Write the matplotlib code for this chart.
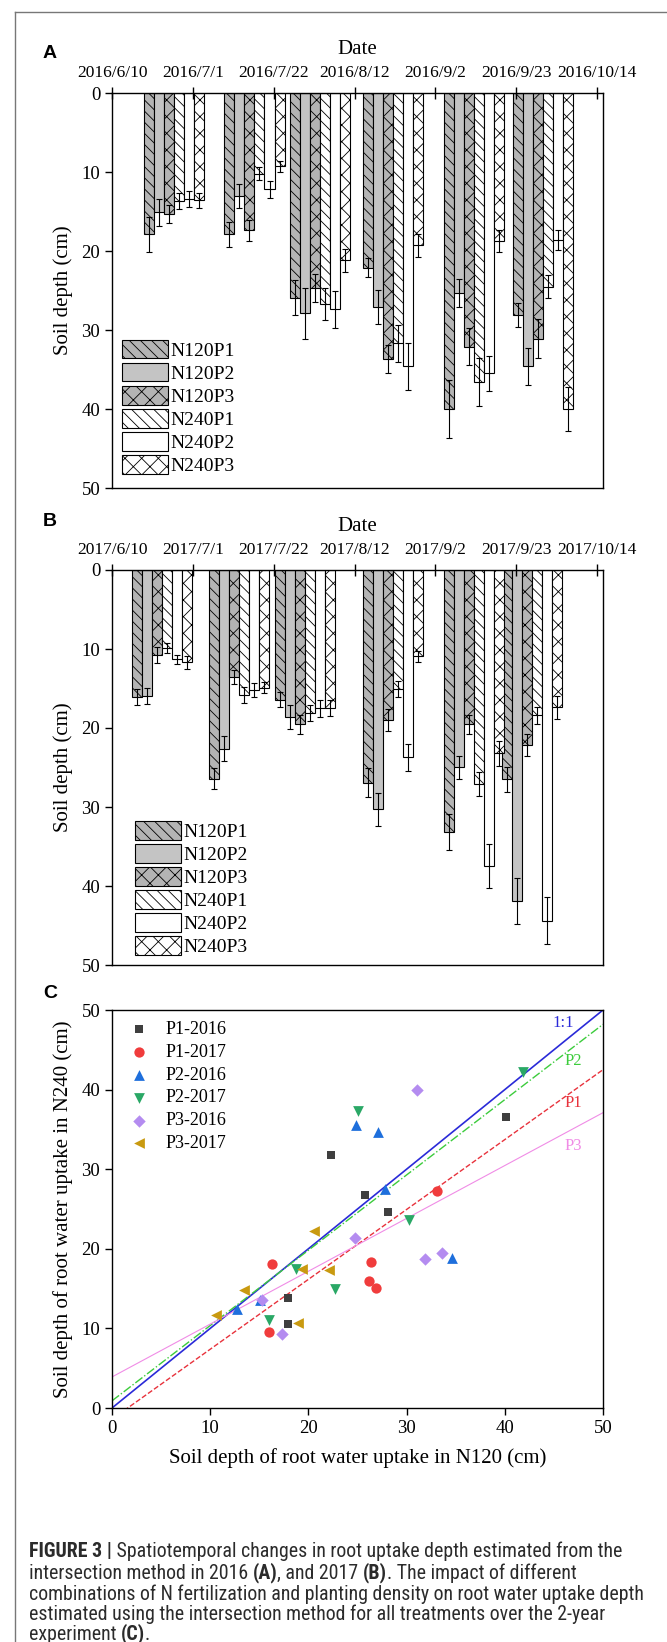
import os
import numpy as np
import pandas as pd
import matplotlib
matplotlib.use('Agg')
import matplotlib.pyplot as plt
from matplotlib import font_manager
from matplotlib.font_manager import FontProperties
from matplotlib.lines import Line2D

plt.rcParams['font.family'] = ['Liberation Serif', 'DejaVu Serif']
plt.rcParams['hatch.linewidth'] = 0.6

# ---------------- datos ----------------
tratamientos = ['N120P1', 'N120P2', 'N120P3', 'N240P1', 'N240P2', 'N240P3']

# Panel A (2016): fechas de muestreo, profundidad media y error
fechas_2016 = ['2016-06-26', '2016-07-17', '2016-08-03', '2016-08-22', '2016-09-12', '2016-09-30']
ticks_2016 = ['2016/6/10', '2016/7/1', '2016/7/22', '2016/8/12', '2016/9/2', '2016/9/23', '2016/10/14']
prof_2016 = [
    [17.9, 17.9, 25.9, 22.1, 40.0, 28.1],
    [15.1, 13.0, 27.9, 27.1, 25.3, 34.6],
    [15.3, 17.4, 24.7, 33.7, 32.1, 31.1],
    [13.7, 10.2, 26.7, 31.7, 36.6, 24.5],
    [13.4, 12.2, 27.4, 34.6, 35.5, 18.6],
    [13.6, 9.3, 21.2, 19.3, 18.7, 40.0],
]
err_2016 = [
    [2.2, 1.6, 2.2, 1.2, 3.7, 1.5],
    [1.7, 1.5, 3.2, 2.2, 1.8, 2.3],
    [1.1, 1.3, 1.8, 1.8, 2.3, 2.5],
    [1.0, 0.8, 2.0, 2.3, 3.0, 1.5],
    [1.0, 1.1, 2.3, 3.0, 2.2, 1.3],
    [1.0, 0.7, 1.5, 1.5, 1.4, 2.8],
]

# Panel B (2017)
fechas_2017 = ['2017-06-23', '2017-07-13', '2017-07-30', '2017-08-22', '2017-09-12', '2017-09-27']
ticks_2017 = ['2017/6/10', '2017/7/1', '2017/7/22', '2017/8/12', '2017/9/2', '2017/9/23', '2017/10/14']
prof_2017 = [
    [16.1, 26.4, 16.4, 26.9, 33.2, 26.5],
    [16.0, 22.6, 18.6, 30.3, 25.0, 41.9],
    [10.8, 13.5, 19.5, 19.0, 19.5, 22.2],
    [9.9, 15.8, 18.1, 15.1, 27.1, 18.4],
    [11.3, 15.2, 17.5, 23.7, 37.5, 44.4],
    [11.7, 14.9, 17.5, 10.9, 23.2, 17.4],
]
err_2017 = [
    [1.0, 1.3, 0.9, 1.8, 2.3, 1.6],
    [1.0, 1.6, 1.5, 2.1, 1.5, 2.9],
    [1.0, 0.9, 1.2, 1.4, 1.2, 1.4],
    [0.6, 1.0, 1.0, 1.0, 1.5, 1.1],
    [0.6, 0.9, 1.1, 1.7, 2.8, 3.0],
    [0.8, 0.7, 1.0, 0.7, 1.6, 1.4],
]

# Panel C: profundidad N120 (x) contra N240 (y)
series_c = ['P1-2016', 'P1-2017', 'P2-2016', 'P2-2017', 'P3-2016', 'P3-2017']
x_c = [
    [25.8, 28.1, 17.9, 17.9, 22.3, 40.1],
    [16.3, 16.0, 26.4, 26.2, 26.9, 33.1],
    [12.7, 15.1, 27.8, 34.6, 24.8, 27.1],
    [16.0, 18.7, 22.7, 30.2, 25.0, 41.9],
    [15.3, 17.3, 24.7, 31.9, 33.6, 31.1],
    [10.6, 13.4, 20.6, 19.3, 22.1, 18.9],
]
y_c = [
    [26.8, 24.6, 13.8, 10.5, 31.8, 36.6],
    [18.1, 9.6, 18.3, 15.9, 15.1, 27.2],
    [12.4, 13.6, 27.5, 18.8, 35.5, 34.7],
    [11.1, 17.5, 15.0, 23.6, 37.3, 42.2],
    [13.6, 9.3, 21.3, 18.7, 19.5, 39.9],
    [11.7, 14.8, 22.2, 17.5, 17.3, 10.7],
]
# rectas: etiqueta, pendiente, ordenada
rectas = [('1:1', 1.0, 0.0), ('P2', 0.946, 0.9), ('P1', 0.878, -1.4), ('P3', 0.664, 3.9)]

# ---------------- estilos ----------------
rellenos = ['#b4b4b4', '#c4c4c4', '#b4b4b4', 'white', 'white', 'white']
tramas = ['\\\\\\', None, 'xx', '\\\\\\', None, 'xx']
ancho = 2.6

marcadores = ['s', 'o', '^', 'v', 'D', '<']
colores_c = ['#3f3f3f', '#f03c3c', '#1e6fdc', '#2aa866', '#b48cf0', '#c99a10']
tamanos_c = [40, 55, 60, 60, 40, 60]
estilo_rectas = {'1:1': ('#2a2ad8', '-', 1.2), 'P2': ('#3ccc3c', '-.', 1.0),
                 'P1': ('#e8323c', '--', 1.0), 'P3': ('#f08ce6', '-', 0.8)}
pos_etiquetas = {'1:1': (46.0, 48.4), 'P2': (47.0, 43.6), 'P1': (47.0, 38.3), 'P3': (47.0, 32.9)}

W, H = 667, 1642
fig = plt.figure(figsize=(W / 100, H / 100), dpi=100)


def caja(x0, y0, x1, y1):
    return [x0 / W, 1 - y1 / H, (x1 - x0) / W, (y1 - y0) / H]


def graficar_barras(ax, fechas, ticks, prof, err, pos_leyenda):
    inicio = pd.Timestamp(ticks[0].replace('/', '-'))
    x0 = np.array((pd.to_datetime(fechas) - inicio).days, dtype=float)
    xt = np.array((pd.to_datetime([t.replace('/', '-') for t in ticks]) - inicio).days, dtype=float)
    for i, trat in enumerate(tratamientos):
        ax.bar(x0 + (i - 2.5) * ancho, prof[i], ancho, yerr=err[i],
               color=rellenos[i], edgecolor='black', hatch=tramas[i], linewidth=0.8,
               error_kw=dict(ecolor='black', elinewidth=0.8, capsize=2.5, capthick=0.8),
               label=trat)
    ax.set_xlim(0, xt[-1] + 1.5)
    ax.set_ylim(50, 0)
    ax.set_xticks(xt)
    ax.set_xticklabels(ticks, fontsize=12.5)
    ax.set_yticks(range(0, 51, 10))
    ax.xaxis.tick_top()
    ax.xaxis.set_label_position('top')
    ax.set_xlabel('Date', fontsize=15, labelpad=8)
    ax.set_ylabel('Soil depth (cm)', fontsize=15, labelpad=6)
    ax.tick_params(axis='x', direction='inout', length=9, width=1, pad=4)
    ax.tick_params(axis='y', direction='out', length=5, width=1, labelsize=13.5)
    for s in ax.spines.values():
        s.set_linewidth(1)
    ax.legend(loc='lower left', bbox_to_anchor=pos_leyenda, frameon=False, fontsize=14,
              handlelength=2.35, handleheight=1.1, labelspacing=0.16, handletextpad=0.15,
              borderaxespad=0, borderpad=0)


axA = fig.add_axes(caja(112, 93, 603, 488))
graficar_barras(axA, fechas_2016, ticks_2016, prof_2016, err_2016, (0.02, 0.033))

axB = fig.add_axes(caja(112, 570, 603, 965))
graficar_barras(axB, fechas_2017, ticks_2017, prof_2017, err_2017, (0.047, 0.022))

# Panel C
axC = fig.add_axes(caja(112, 1010, 603, 1408))
xx = np.array([0, 50])
for nombre, m, b in rectas:
    color, ls, lw = estilo_rectas[nombre]
    axC.plot(xx, m * xx + b, color=color, ls=ls, lw=lw, zorder=1)
    axC.text(*pos_etiquetas[nombre], nombre, color=color, fontsize=12, ha='center', va='center')
for i, nombre in enumerate(series_c):
    axC.scatter(x_c[i], y_c[i], marker=marcadores[i], s=tamanos_c[i], color=colores_c[i],
                linewidths=0, label=nombre, zorder=3)
axC.set_xlim(0, 50)
axC.set_ylim(0, 50)
axC.set_xticks(range(0, 51, 10))
axC.set_yticks(range(0, 51, 10))
axC.tick_params(direction='out', length=5, width=1, labelsize=13.5)
for s in axC.spines.values():
    s.set_linewidth(1)
axC.set_xlabel('Soil depth of root water uptake in N120 (cm)', fontsize=15, labelpad=8)
axC.set_ylabel('Soil depth of root water uptake in N240 (cm)', fontsize=15, labelpad=6)
axC.legend(loc='upper left', frameon=False, fontsize=13, handlelength=1.2,
           handletextpad=0.85, labelspacing=0.32, borderaxespad=0, borderpad=0,
           bbox_to_anchor=(0.033, 0.972))

# Etiquetas de panel
for letra, y in [('A', 53), ('B', 522), ('C', 993)]:
    fig.text(50 / W, 1 - y / H, letra, family='Liberation Sans', fontweight='bold',
             fontsize=14, ha='center', va='center')

# Marco de la figura
fig.add_artist(Line2D([15 / W, 15 / W], [0, 1 - 12 / H], color='#777777', lw=1))
fig.add_artist(Line2D([15 / W, 1], [1 - 12 / H, 1 - 12 / H], color='#777777', lw=1))


# Pie de figura: se busca una fuente sans condensada si esta instalada
def buscar_fuente(clave, negrita):
    for f in font_manager.fontManager.ttflist:
        base = os.path.basename(f.fname).lower()
        if clave not in base or f.style != 'normal':
            continue
        if any(p in base for p in ['light', 'semi', 'extra', 'medium', 'thin', 'black', 'italic']):
            continue
        w = f.weight if isinstance(f.weight, (int, float)) else 400
        if (w >= 600) == negrita:
            return f.fname
    return None


prop_normal = FontProperties(family='Liberation Sans')
prop_negrita = FontProperties(family='Liberation Sans', weight='bold')
for clave in ['liberationsansnarrow', 'robotocondensed', 'dejavusanscondensed', 'opensanscondensed']:
    reg, neg = buscar_fuente(clave, False), buscar_fuente(clave, True)
    if reg and neg:
        prop_normal = FontProperties(fname=reg)
        prop_negrita = FontProperties(fname=neg)
        break

lineas = [
    [('FIGURE 3 |', True), (' Spatiotemporal changes in root uptake depth estimated from the', False)],
    [('intersection method in 2016 ', False), ('(A)', True), (', and 2017 ', False), ('(B)', True),
     ('. The impact of different', False)],
    [('combinations of N fertilization and planting density on root water uptake depth', False)],
    [('estimated using the intersection method for all treatments over the 2-year', False)],
    [('experiment ', False), ('(C)', True), ('.', False)],
]
y_lineas = [1551, 1573, 1594, 1614, 1634]

render = fig.canvas.get_renderer()
prueba = fig.text(0, 0, lineas[2][0][0], fontproperties=prop_normal, fontsize=12)
ancho_px = prueba.get_window_extent(render).width
prueba.remove()
tam_pie = 12 * 615 / ancho_px

for segs, y in zip(lineas, y_lineas):
    x = 29
    for texto, negrita in segs:
        t = fig.text(x / W, 1 - y / H, texto, fontproperties=prop_negrita if negrita else prop_normal,
                     fontsize=tam_pie, va='center', ha='left', color='#2b2b2b')
        x += t.get_window_extent(render).width

fig.savefig('out.png', dpi=100)
